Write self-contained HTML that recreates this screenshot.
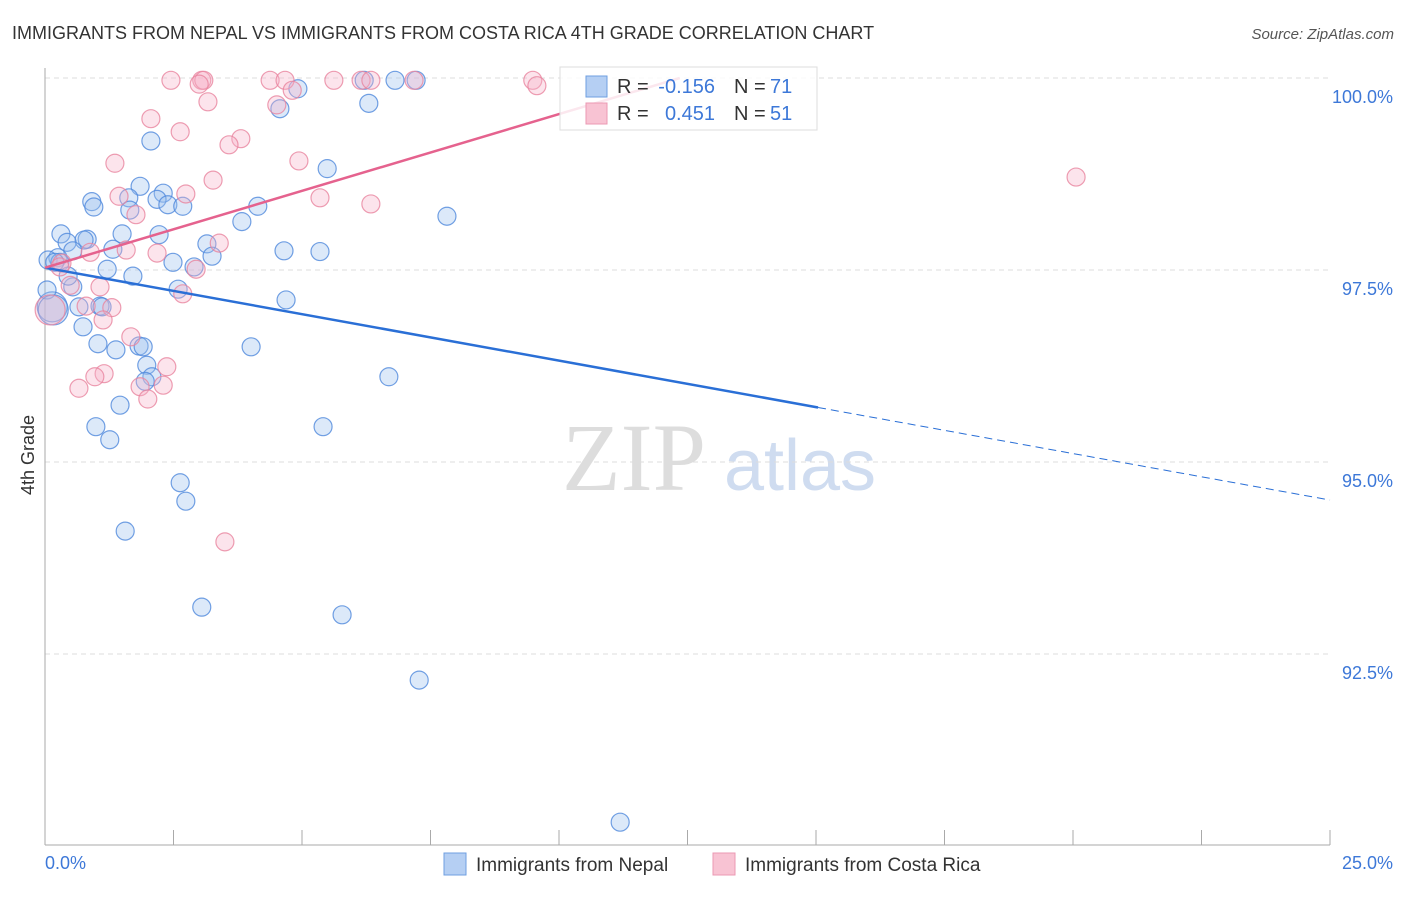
<!DOCTYPE html>
<html><head><meta charset="utf-8"><style>
body{margin:0;background:#fff;font-family:"Liberation Sans",sans-serif}
svg text{font-family:"Liberation Sans",sans-serif}
</style></head><body>
<svg id="c" width="1406" height="892" xmlns="http://www.w3.org/2000/svg">
<text x="12" y="39" font-size="18" fill="#333">IMMIGRANTS FROM NEPAL VS IMMIGRANTS FROM COSTA RICA 4TH GRADE CORRELATION CHART</text>
<text x="1394" y="39" font-size="15" fill="#555" text-anchor="end" font-style="italic">Source: ZipAtlas.com</text>
<g>
<text x="634" y="490" font-size="96" fill="#ddd" text-anchor="middle" font-family="Liberation Serif" style="font-family:'Liberation Serif',serif">ZIP</text>
<text x="800" y="490" font-size="72" fill="#cfdcf0" text-anchor="middle">atlas</text>
</g>
<g id="grid"></g>
<g id="axes"></g>
<g id="pts"></g>
<g id="trend"></g>
<g>
<rect x="560" y="67" width="257" height="63" fill="#fff" fill-opacity="0.85" stroke="#ddd"/>
<rect x="586" y="76" width="21" height="21" fill="#b5cff3" stroke="#6f9fe0"/>
<text x="617" y="93" font-size="20" fill="#333">R = </text>
<text x="715" y="93" font-size="20" fill="#3d78d8" text-anchor="end">-0.156</text>
<text x="734" y="93" font-size="20" fill="#333">N = </text>
<text x="770" y="93" font-size="20" fill="#3d78d8">71</text>
<rect x="586" y="103" width="21" height="21" fill="#f8c3d3" stroke="#eb98b3"/>
<text x="617" y="120" font-size="20" fill="#333">R = </text>
<text x="715" y="120" font-size="20" fill="#3d78d8" text-anchor="end">0.451</text>
<text x="734" y="120" font-size="20" fill="#333">N = </text>
<text x="770" y="120" font-size="20" fill="#3d78d8">51</text>
</g>
<text transform="translate(34,455) rotate(-90)" font-size="18" fill="#333" text-anchor="middle">4th Grade</text>
<text x="45" y="869" font-size="18" fill="#3d78d8">0.0%</text>
<text x="1393" y="869" font-size="18" fill="#3d78d8" text-anchor="end">25.0%</text>
<g>
<rect x="444" y="853" width="22" height="22" fill="#b5cff3" stroke="#6f9fe0"/>
<text x="476" y="871" font-size="19" fill="#333">Immigrants from Nepal</text></g>
<g>
<rect x="713" y="853" width="22" height="22" fill="#f8c3d3" stroke="#eb98b3"/>
<text x="745" y="871" font-size="19" fill="#333">Immigrants from Costa Rica</text></g>
</svg>
<script>
const yTicks=[100,97.5,95,92.5];
const yTickLabels=["100.0%","97.5%","95.0%","92.5%"];
const xTicks=[0,2.5,5,7.5,10,12.5,15,17.5,20,22.5,25];
const nepalX=[6.81,7.22,6.21,4.92,4.57,6.30,2.06,5.49,1.85,2.30,2.18,2.39,2.68,0.91,0.95,1.63,1.65,7.82,4.14,3.83,0.31,0.82,0.76,0.43,1.50,2.22,0.54,1.32,0.25,3.15,4.65,5.35,3.25,2.49,2.90,0.06,1.21,1.71,0.29,0.54,2.59,4.69,1.07,0.66,0.14,0.74,4.01,1.03,1.38,1.83,1.91,1.98,2.08,6.69,1.95,1.46,5.41,0.99,1.26,2.63,2.74,1.56,3.05,5.78,7.28,11.19,0.04,0.16,0.19,1.11,0.45];
const nepalY=[99.97,99.97,99.97,99.86,99.60,99.67,99.18,98.82,98.59,98.50,98.42,98.35,98.33,98.39,98.32,98.44,98.28,98.20,98.33,98.13,97.97,97.90,97.89,97.86,97.97,97.96,97.75,97.77,97.66,97.84,97.75,97.74,97.68,97.60,97.54,97.63,97.51,97.42,97.60,97.28,97.25,97.11,97.03,97.02,97.02,96.76,96.50,96.54,96.46,96.51,96.50,96.26,96.11,96.11,96.05,95.74,95.46,95.46,95.29,94.73,94.49,94.10,93.11,93.01,92.16,90.31,97.24,96.98,97.60,97.02,97.42];
const costaX=[2.45,3.05,3.09,4.38,4.67,5.62,6.15,6.34,7.18,9.49,3.00,4.81,9.57,3.17,4.51,2.06,2.63,3.81,3.58,4.94,1.36,3.27,20.06,2.74,1.44,5.35,6.34,1.77,3.39,0.88,1.58,2.18,2.94,0.33,0.29,0.49,1.07,2.68,1.30,1.13,1.67,2.37,1.15,0.97,1.85,0.66,2.30,2.00,3.50,0.10,0.80];
const costaY=[99.97,99.97,99.97,99.97,99.97,99.97,99.97,99.97,99.97,99.97,99.92,99.84,99.90,99.69,99.65,99.47,99.30,99.21,99.13,98.92,98.89,98.67,98.71,98.49,98.46,98.44,98.36,98.22,97.85,97.73,97.76,97.72,97.51,97.59,97.54,97.30,97.28,97.19,97.01,96.85,96.63,96.24,96.15,96.11,95.98,95.96,96.00,95.82,93.96,96.98,97.03];
const nepalTrend=[97.53,-0.121];
const costaTrend=[97.53,0.2];
const NS="http://www.w3.org/2000/svg";
const xs=v=>45+v/25*1285, ys=v=>78+(100-v)*76.8;
function mk(tag,attrs,parent){const e=document.createElementNS(NS,tag);for(const k in attrs)e.setAttribute(k,attrs[k]);document.getElementById(parent).appendChild(e);return e;}
yTicks.forEach((t,i)=>{
 const g=mk('line',{x1:45,x2:1330,y1:ys(t),y2:ys(t),stroke:'#ddd','stroke-dasharray':'5,4'},'grid');
 
 
 const l=mk('text',{x:1393,y:ys(t)+25,'font-size':18,fill:'#3d78d8','text-anchor':'end'},'grid');
 l.textContent=yTickLabels[i];
 
 
});
const ax=mk('line',{x1:45,x2:45,y1:68,y2:845,stroke:'#aaa'},'axes');


const bx=mk('line',{x1:45,x2:1330,y1:845,y2:845,stroke:'#aaa'},'axes');


xTicks.forEach(t=>{
 const k=mk('line',{x1:xs(t),x2:xs(t),y1:830,y2:845,stroke:'#aaa'},'axes');
 
 
});
function pts(X,Y,fill,stroke,name){X.forEach((x,i)=>{
 const big=(x<0.2&&Y[i]<97.1&&Y[i]>96.9);
 const c=mk('circle',{cx:xs(x),cy:ys(Y[i]),r:big?15:9,fill:fill,'fill-opacity':0.35,stroke:stroke,'stroke-width':1.2,'stroke-opacity':0.8},'pts');
 
 
});}
pts(nepalX,nepalY,'#9cc0ef','#4f88dc','point-nepal');
pts(costaX,costaY,'#f6b3c8','#e8849f','point-costa-rica');
const b1=mk('line',{x1:xs(0),y1:ys(nepalTrend[0]),x2:xs(15.04),y2:ys(nepalTrend[0]+nepalTrend[1]*15.04),stroke:'#2a6fd6','stroke-width':2.5},'trend');


const b2=mk('line',{x1:xs(15.04),y1:ys(nepalTrend[0]+nepalTrend[1]*15.04),x2:xs(25),y2:ys(nepalTrend[0]+nepalTrend[1]*25),stroke:'#2a6fd6','stroke-width':1,'stroke-dasharray':'8,5'},'trend');


const xe=(100-costaTrend[0])/costaTrend[1];
const p1=mk('line',{x1:xs(0),y1:ys(costaTrend[0]),x2:xs(xe),y2:ys(100),stroke:'#e5628e','stroke-width':2.5},'trend');


</script>
</body></html>
